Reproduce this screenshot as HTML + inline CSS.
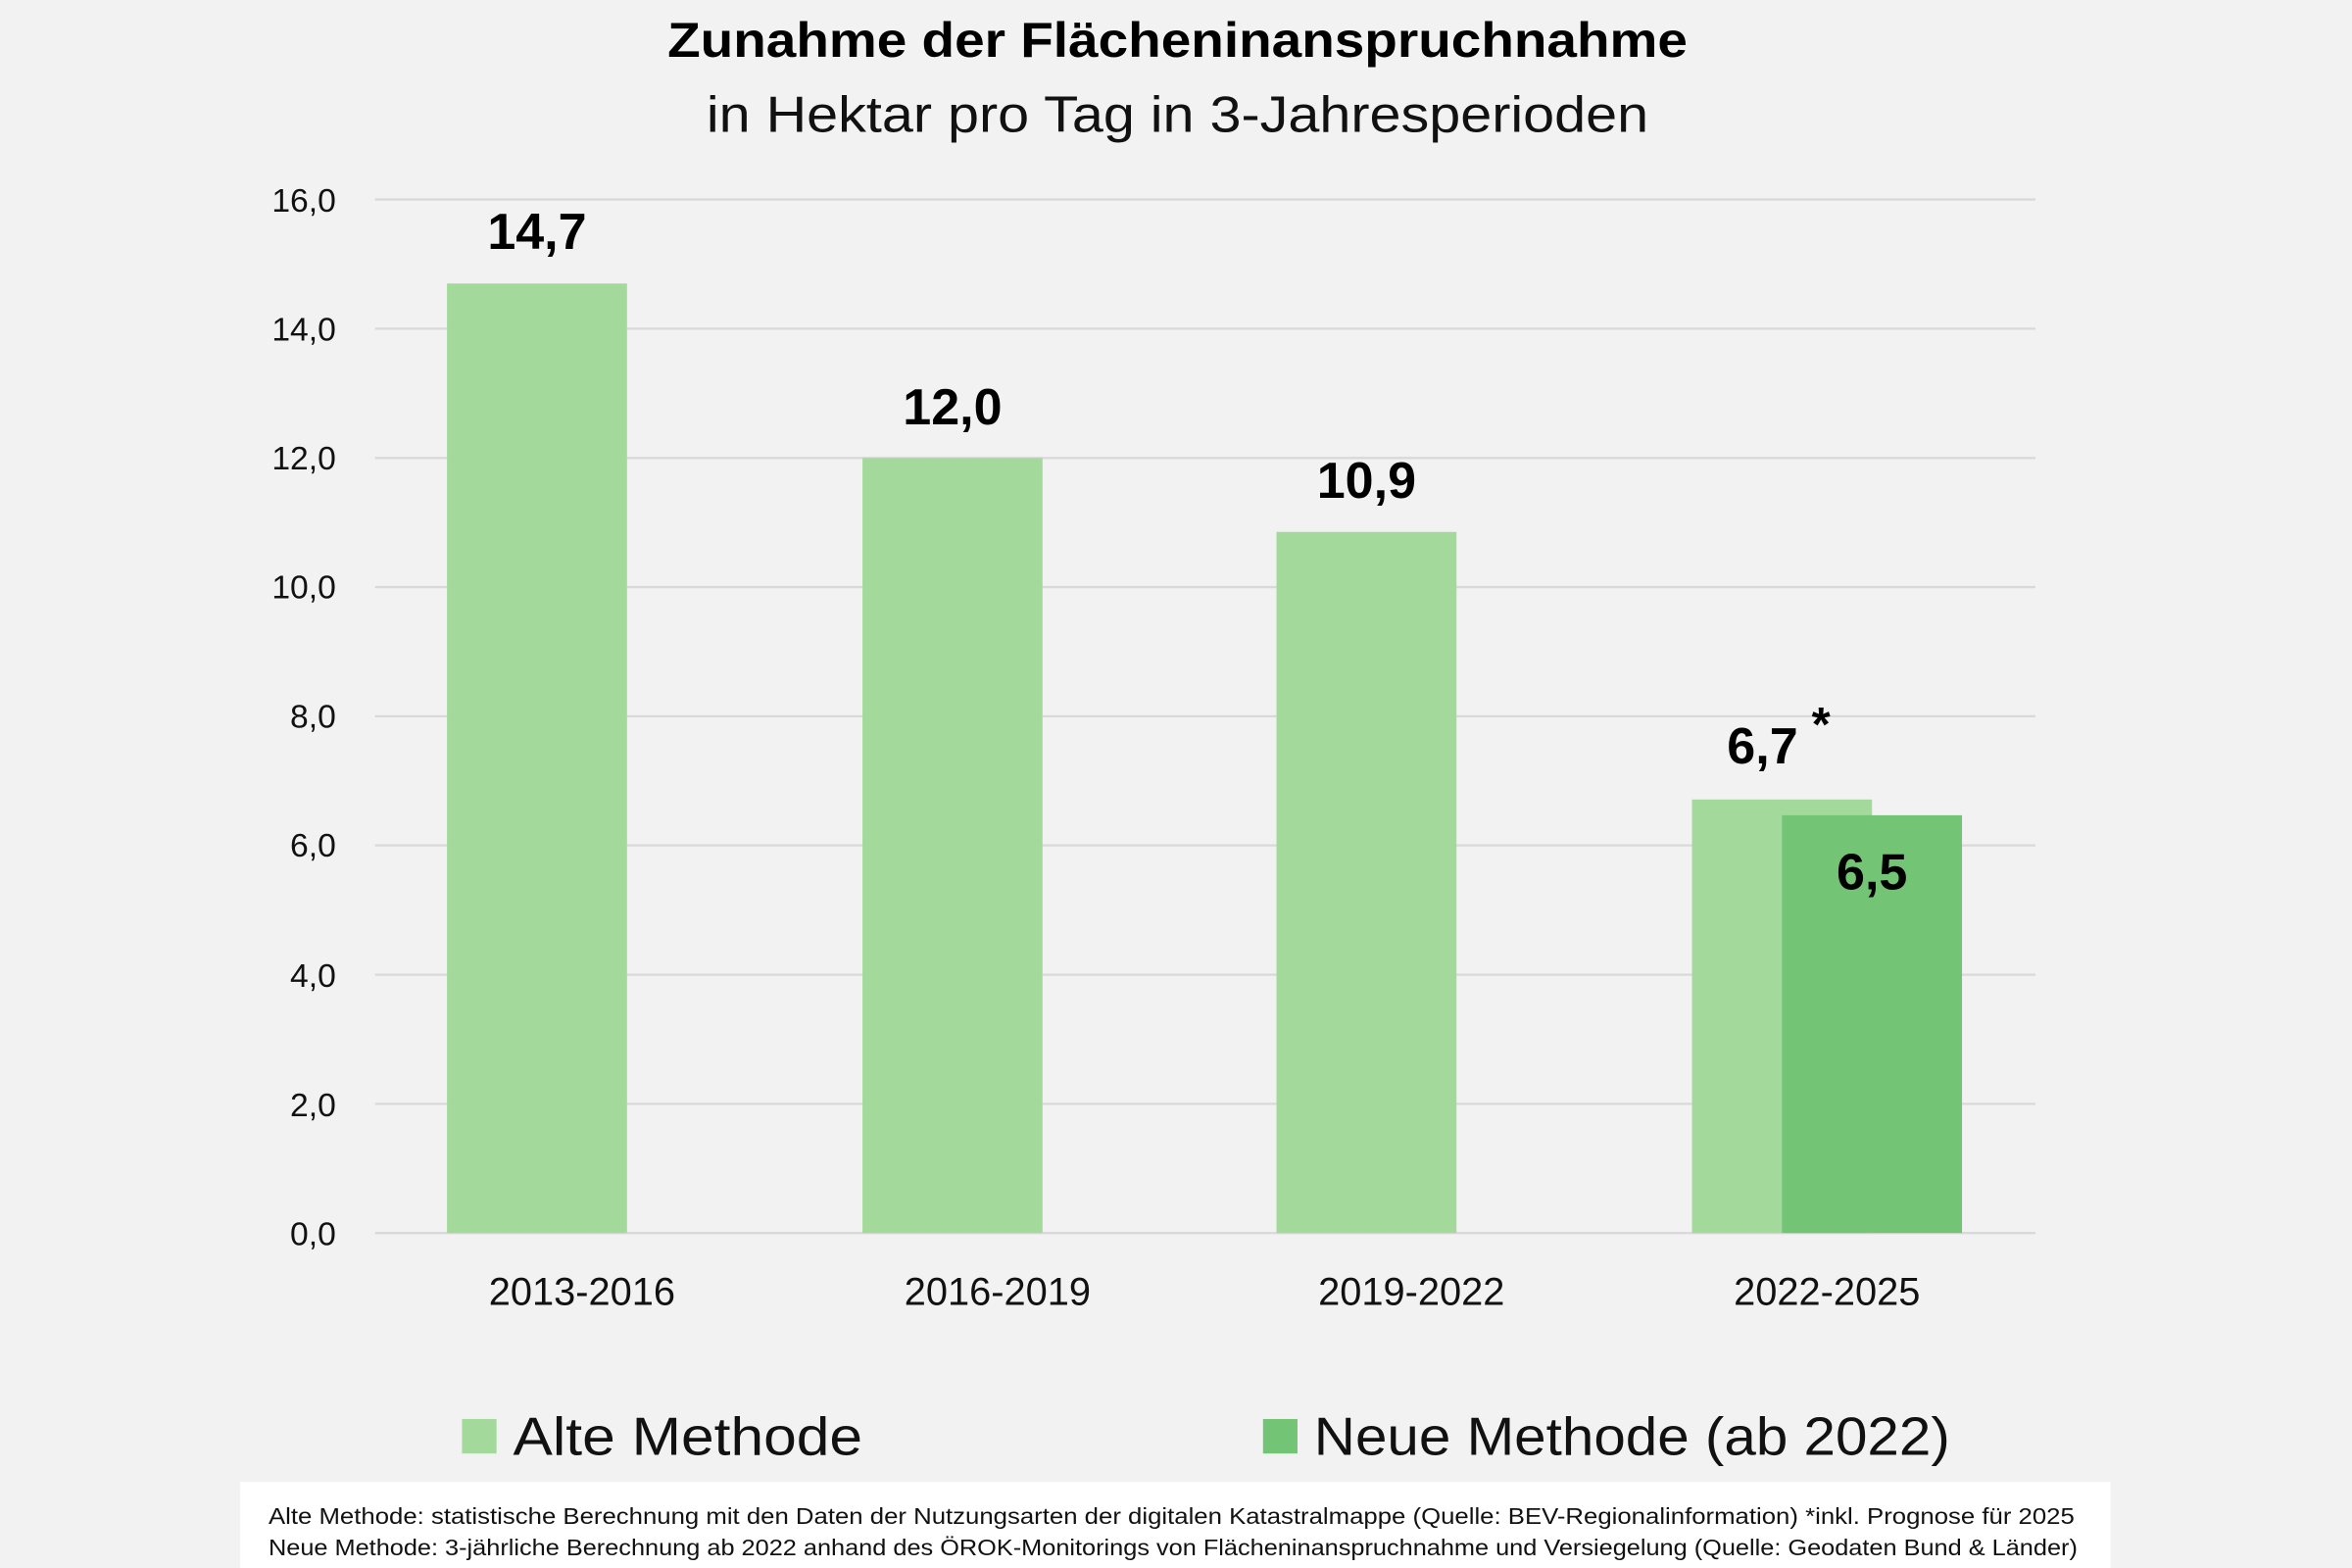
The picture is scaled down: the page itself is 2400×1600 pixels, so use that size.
<!DOCTYPE html>
<html><head><meta charset="utf-8"><style>
html,body{margin:0;padding:0;background:#f2f2f2;}
svg{display:block;font-family:"Liberation Sans",sans-serif;}
</style></head><body>
<svg width="2400" height="1600" viewBox="0 0 1568 1045.33" xmlns="http://www.w3.org/2000/svg">
<rect x="0" y="0" width="1568" height="1046" fill="#f2f2f2"/>
<text x="445" y="38" font-size="33" font-weight="bold" fill="#000" textLength="680" lengthAdjust="spacingAndGlyphs">Zunahme der Flächeninanspruchnahme</text>
<text x="471" y="88" font-size="34" fill="#111" textLength="628" lengthAdjust="spacingAndGlyphs">in Hektar pro Tag in 3-Jahresperioden</text>
<g stroke="#d9d9d9" stroke-width="1.5">
<line x1="250" x2="1357" y1="133" y2="133"/>
<line x1="250" x2="1357" y1="219.1" y2="219.1"/>
<line x1="250" x2="1357" y1="305.3" y2="305.3"/>
<line x1="250" x2="1357" y1="391.4" y2="391.4"/>
<line x1="250" x2="1357" y1="477.5" y2="477.5"/>
<line x1="250" x2="1357" y1="563.6" y2="563.6"/>
<line x1="250" x2="1357" y1="649.8" y2="649.8"/>
<line x1="250" x2="1357" y1="735.9" y2="735.9"/>
<line x1="250" x2="1357" y1="822" y2="822"/>
</g>
<g font-size="22" fill="#111" text-anchor="end">
<text x="224" y="141">16,0</text>
<text x="224" y="227">14,0</text>
<text x="224" y="313">12,0</text>
<text x="224" y="399">10,0</text>
<text x="224" y="485">8,0</text>
<text x="224" y="571">6,0</text>
<text x="224" y="658">4,0</text>
<text x="224" y="744">2,0</text>
<text x="224" y="830">0,0</text>
</g>
<rect x="298" y="189" width="120" height="633" fill="#a3d99b"/>
<rect x="575" y="305.3" width="120" height="516.7" fill="#a3d99b"/>
<rect x="851" y="354.6" width="120" height="467.4" fill="#a3d99b"/>
<rect x="1128" y="533" width="120" height="289" fill="#a3d99b"/>
<rect x="1188" y="543.5" width="120" height="278.5" fill="#74c476"/>
<g font-size="34" font-weight="bold" fill="#000" text-anchor="middle">
<text x="358" y="166">14,7</text>
<text x="635" y="283">12,0</text>
<text x="911" y="332">10,9</text>
<text x="1175" y="509">6,7</text>
<text x="1248" y="593">6,5</text>
</g>
<text x="1214" y="494" font-size="32" font-weight="bold" text-anchor="middle">*</text>
<g font-size="26" fill="#111" text-anchor="middle">
<text x="388" y="870">2013-2016</text>
<text x="665" y="870">2016-2019</text>
<text x="941" y="870">2019-2022</text>
<text x="1218" y="870">2022-2025</text>
</g>
<rect x="308" y="946" width="23" height="23" fill="#a3d99b"/>
<text x="342" y="970" font-size="36" fill="#111" textLength="233" lengthAdjust="spacingAndGlyphs">Alte Methode</text>
<rect x="842" y="946" width="23" height="23" fill="#74c476"/>
<text x="876" y="970" font-size="36" fill="#111" textLength="424" lengthAdjust="spacingAndGlyphs">Neue Methode (ab 2022)</text>
<rect x="160" y="988" width="1247" height="60" fill="#ffffff"/>
<g font-size="15" fill="#111">
<text x="179" y="1016" textLength="1204" lengthAdjust="spacingAndGlyphs">Alte Methode:  statistische Berechnung mit den Daten der Nutzungsarten der digitalen Katastralmappe (Quelle: BEV-Regionalinformation) *inkl. Prognose für 2025</text>
<text x="179" y="1037" textLength="1206" lengthAdjust="spacingAndGlyphs">Neue Methode: 3-jährliche Berechnung ab 2022 anhand des ÖROK-Monitorings von Flächeninanspruchnahme und Versiegelung (Quelle: Geodaten Bund &amp; Länder)</text>
</g>
</svg>
</body></html>
